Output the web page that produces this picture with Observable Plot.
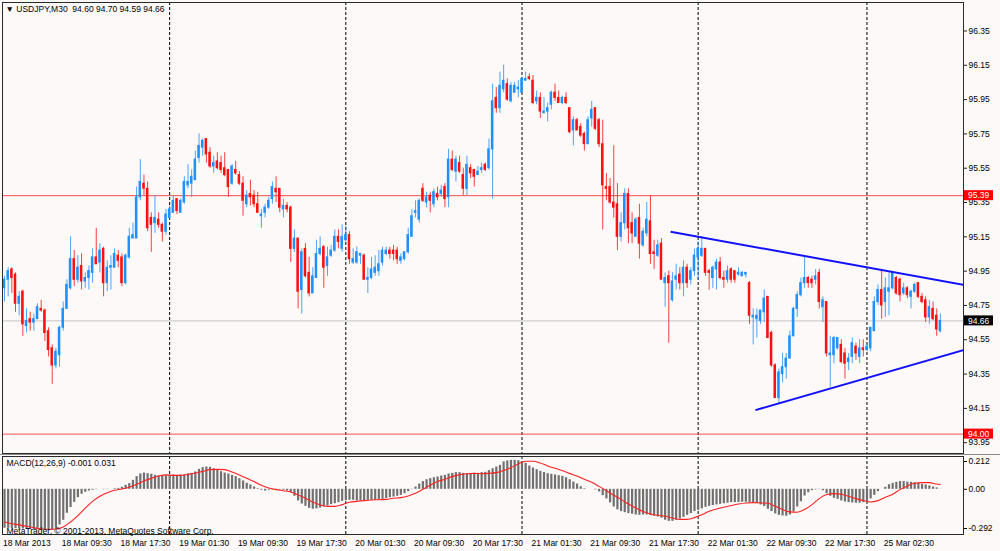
<!DOCTYPE html>
<html><head><meta charset="utf-8">
<script src="https://cdn.jsdelivr.net/npm/d3@7"></script>
<script src="https://cdn.jsdelivr.net/npm/@observablehq/plot@0.6"></script>
<style>
html,body{margin:0;padding:0;background:#fcf9f8;}
#chart{width:1000px;height:551px;overflow:hidden;background:#fcf9f8;}
#chart svg{display:block;}
.sep{height:1px;background:#8c8c8c;}
</style></head><body><div id="chart"></div>
<script>
// ---- data: USDJPY M30, bar index 0..255 ----
const opens = [94.85,94.90,94.96,94.93,94.76,94.83,94.63,94.67,94.65,94.67,94.73,94.72,94.60,94.50,94.40,94.46,94.62,94.73,94.85,95.02,94.90,94.98,94.89,94.91,94.94,95.03,95.00,95.08,94.88,94.97,94.97,95.04,95.03,94.88,95.03,95.14,95.14,95.38,95.46,95.43,95.26,95.23,95.25,95.22,95.18,95.26,95.29,95.37,95.29,95.35,95.45,95.46,95.48,95.61,95.67,95.72,95.64,95.56,95.59,95.58,95.55,95.54,95.46,95.54,95.51,95.46,95.34,95.40,95.39,95.34,95.27,95.29,95.32,95.37,95.43,95.43,95.31,95.33,95.32,95.08,95.14,94.84,95.08,94.94,94.82,94.91,95.05,95.09,94.98,95.04,95.07,95.15,95.08,95.13,95.16,95.00,95.00,95.04,95.04,94.90,94.91,94.94,94.95,95.00,95.05,95.07,95.07,95.07,95.01,95.02,95.06,95.15,95.29,95.25,95.43,95.35,95.39,95.34,95.40,95.40,95.44,95.38,95.60,95.53,95.58,95.51,95.43,95.55,95.54,95.51,95.54,95.57,95.55,95.66,95.96,95.90,96.01,96.04,95.94,95.99,96.01,95.99,96.06,96.08,96.06,95.94,95.96,95.87,95.88,95.92,95.99,95.96,95.93,95.96,95.90,95.77,95.83,95.79,95.75,95.69,95.84,95.90,95.83,95.69,95.44,95.44,95.35,95.34,95.15,95.23,95.40,95.23,95.15,95.26,95.10,95.17,95.24,95.06,95.04,95.11,94.88,94.92,94.78,94.90,94.93,94.88,94.97,94.90,94.95,95.03,95.04,95.08,94.95,94.91,94.96,95.00,94.91,94.90,94.96,94.95,94.93,94.92,94.93,94.88,94.68,94.67,94.66,94.71,94.80,94.59,94.40,94.21,94.35,94.39,94.44,94.57,94.73,94.81,94.88,94.91,94.90,94.90,94.94,94.74,94.77,94.46,94.46,94.50,94.52,94.47,94.42,94.45,94.51,94.45,94.50,94.49,94.50,94.60,94.77,94.84,94.77,94.83,94.85,94.91,94.90,94.82,94.85,94.80,94.83,94.88,94.80,94.78,94.68,94.73,94.69,94.60];
const highs = [94.92,94.97,94.97,94.94,94.83,94.84,94.73,94.71,94.70,94.76,94.78,94.73,94.62,94.52,94.50,94.63,94.77,94.90,95.15,95.07,95.04,95.05,94.94,94.98,95.08,95.20,95.11,95.09,95.01,95.04,95.08,95.07,95.05,95.05,95.20,95.23,95.44,95.60,95.51,95.47,95.29,95.39,95.29,95.23,95.31,95.33,95.39,95.37,95.37,95.50,95.57,95.54,95.65,95.75,95.72,95.72,95.67,95.62,95.64,95.62,95.64,95.54,95.57,95.59,95.53,95.50,95.42,95.48,95.42,95.41,95.31,95.34,95.38,95.47,95.50,95.43,95.37,95.35,95.33,95.19,95.14,95.08,95.11,95.03,94.97,95.13,95.15,95.10,95.09,95.10,95.19,95.19,95.22,95.21,95.18,95.08,95.09,95.05,95.05,94.97,95.03,95.04,95.07,95.09,95.09,95.09,95.10,95.09,95.05,95.06,95.20,95.31,95.36,95.37,95.46,95.41,95.41,95.43,95.44,95.45,95.46,95.66,95.65,95.62,95.62,95.55,95.62,95.57,95.54,95.56,95.58,95.58,95.72,96.04,96.02,96.11,96.15,96.07,96.05,96.05,96.06,96.08,96.11,96.10,96.09,96.00,95.99,95.96,95.93,96.00,96.04,96.00,95.97,95.99,95.90,95.85,95.84,95.81,95.76,95.85,95.94,95.90,95.84,95.83,95.52,95.49,95.68,95.46,95.29,95.43,95.43,95.29,95.26,95.34,95.20,95.35,95.39,95.13,95.13,95.14,94.94,94.95,94.94,94.99,94.97,95.01,94.99,94.97,95.08,95.12,95.15,95.08,94.96,94.98,95.02,95.03,94.95,94.98,94.97,94.95,94.97,94.95,94.94,94.89,94.73,94.73,94.72,94.84,94.80,94.60,94.41,94.38,94.47,94.47,94.60,94.74,94.83,94.91,95.04,94.92,94.92,94.96,94.96,94.80,94.77,94.57,94.57,94.56,94.55,94.50,94.47,94.56,94.53,94.55,94.55,94.53,94.62,94.80,94.87,94.95,94.91,94.94,94.94,94.92,94.91,94.88,94.86,94.84,94.88,94.88,94.82,94.80,94.78,94.77,94.73,94.70];
const lows = [94.77,94.80,94.82,94.71,94.69,94.57,94.59,94.60,94.60,94.67,94.71,94.54,94.45,94.29,94.38,94.39,94.60,94.73,94.84,94.86,94.88,94.84,94.85,94.84,94.88,94.99,94.94,94.80,94.83,94.84,94.97,94.97,94.86,94.87,95.02,95.14,95.14,95.36,95.39,95.18,95.06,95.17,95.20,95.12,95.16,95.25,95.29,95.28,95.29,95.34,95.43,95.38,95.48,95.58,95.62,95.58,95.55,95.52,95.54,95.52,95.50,95.38,95.45,95.51,95.45,95.27,95.32,95.33,95.32,95.29,95.20,95.26,95.31,95.34,95.35,95.29,95.26,95.29,95.00,95.06,94.73,94.70,94.91,94.80,94.82,94.91,95.04,94.85,94.92,95.03,95.06,95.08,95.06,95.12,94.99,94.99,94.99,94.99,94.90,94.82,94.90,94.92,94.92,94.98,95.04,95.02,95.01,94.99,94.99,95.01,95.05,95.15,95.26,95.23,95.35,95.32,95.29,95.32,95.36,95.38,95.32,95.32,95.53,95.47,95.52,95.39,95.39,95.49,95.44,95.51,95.52,95.53,95.54,95.37,95.87,95.87,95.99,95.94,95.93,95.99,95.96,95.99,96.06,96.06,95.92,95.92,95.84,95.87,95.82,95.89,95.94,95.93,95.92,95.92,95.75,95.68,95.77,95.73,95.65,95.69,95.79,95.77,95.67,95.19,95.36,95.34,95.26,95.07,95.12,95.19,95.11,95.11,95.15,95.02,95.09,95.15,94.99,94.96,95.03,94.90,94.74,94.53,94.77,94.84,94.84,94.80,94.85,94.87,94.92,94.90,95.03,94.92,94.84,94.85,94.84,94.90,94.85,94.88,94.88,94.88,94.92,94.92,94.91,94.64,94.52,94.56,94.64,94.65,94.56,94.39,94.21,94.18,94.30,94.32,94.44,94.57,94.68,94.80,94.85,94.85,94.85,94.87,94.73,94.65,94.45,94.27,94.41,94.49,94.41,94.32,94.37,94.41,94.43,94.41,94.45,94.48,94.48,94.60,94.75,94.67,94.68,94.69,94.84,94.81,94.77,94.81,94.79,94.73,94.82,94.79,94.76,94.65,94.64,94.66,94.57,94.59];
const closes = [94.90,94.95,94.91,94.76,94.80,94.64,94.66,94.65,94.67,94.74,94.72,94.59,94.49,94.40,94.48,94.62,94.73,94.87,95.02,94.90,94.97,94.89,94.91,94.95,95.03,94.99,95.07,94.88,94.97,94.98,95.05,95.01,94.88,95.04,95.15,95.16,95.38,95.47,95.43,95.20,95.22,95.26,95.22,95.18,95.28,95.31,95.36,95.30,95.36,95.47,95.47,95.50,95.60,95.68,95.71,95.63,95.56,95.58,95.55,95.54,95.51,95.44,95.56,95.52,95.46,95.36,95.39,95.38,95.34,95.29,95.28,95.32,95.36,95.44,95.41,95.32,95.33,95.31,95.08,95.14,94.83,95.06,94.92,94.82,94.92,95.05,95.08,94.97,95.03,95.07,95.15,95.12,95.15,95.16,95.02,95.02,95.06,95.05,94.90,94.91,94.96,94.97,94.99,95.07,95.07,95.05,95.05,95.02,95.03,95.06,95.16,95.27,95.30,95.36,95.36,95.38,95.36,95.41,95.38,95.42,95.37,95.60,95.54,95.60,95.53,95.43,95.57,95.52,95.50,95.53,95.55,95.54,95.66,95.94,95.90,96.03,96.06,95.95,96.03,96.03,96.02,96.07,96.07,96.07,95.93,95.96,95.88,95.88,95.90,95.99,95.96,95.93,95.96,95.93,95.76,95.83,95.77,95.74,95.69,95.83,95.89,95.78,95.69,95.45,95.43,95.35,95.32,95.15,95.23,95.40,95.20,95.17,95.25,95.11,95.18,95.25,95.05,95.05,95.10,94.90,94.91,94.88,94.89,94.92,94.88,94.97,94.88,94.95,95.04,95.08,95.08,94.94,94.94,94.97,95.00,94.91,94.90,94.95,94.90,94.90,94.94,94.94,94.94,94.69,94.69,94.69,94.72,94.79,94.56,94.40,94.21,94.36,94.39,94.44,94.57,94.73,94.81,94.88,94.91,94.88,94.88,94.92,94.77,94.78,94.47,94.47,94.56,94.56,94.42,94.41,94.44,94.53,94.47,94.50,94.49,94.51,94.62,94.77,94.84,94.75,94.85,94.85,94.94,94.82,94.81,94.85,94.81,94.83,94.87,94.80,94.77,94.68,94.74,94.67,94.61,94.66];

// MACD main line (histogram), one value per bar
const macdHist = [-0.252,-0.252,-0.254,-0.254,-0.256,-0.256,-0.258,-0.258,-0.261,-0.261,-0.263,-0.263,-0.265,-0.265,-0.252,-0.230,-0.200,-0.155,-0.118,-0.084,-0.054,-0.032,-0.019,-0.011,-0.006,-0.002,0.000,-0.002,-0.002,0.000,0.004,0.006,0.013,0.026,0.037,0.058,0.082,0.099,0.105,0.101,0.097,0.090,0.086,0.086,0.088,0.090,0.093,0.090,0.093,0.093,0.099,0.103,0.112,0.129,0.140,0.144,0.142,0.133,0.123,0.114,0.105,0.099,0.090,0.082,0.069,0.054,0.039,0.028,0.015,0.004,-0.006,-0.011,-0.006,-0.004,-0.004,-0.004,-0.006,-0.011,-0.022,-0.045,-0.075,-0.095,-0.110,-0.123,-0.129,-0.127,-0.121,-0.114,-0.108,-0.099,-0.093,-0.086,-0.078,-0.073,-0.071,-0.071,-0.075,-0.075,-0.075,-0.071,-0.071,-0.071,-0.067,-0.065,-0.060,-0.054,-0.050,-0.045,-0.039,-0.028,-0.015,-0.002,0.015,0.034,0.050,0.062,0.069,0.075,0.080,0.086,0.090,0.099,0.103,0.108,0.108,0.103,0.101,0.101,0.103,0.103,0.108,0.110,0.121,0.133,0.144,0.155,0.177,0.183,0.187,0.187,0.185,0.179,0.168,0.151,0.138,0.127,0.116,0.108,0.101,0.097,0.093,0.088,0.084,0.075,0.062,0.047,0.034,0.017,0.004,0.000,0.000,-0.004,-0.017,-0.041,-0.062,-0.088,-0.114,-0.133,-0.144,-0.151,-0.157,-0.161,-0.166,-0.168,-0.166,-0.166,-0.170,-0.174,-0.179,-0.187,-0.200,-0.207,-0.207,-0.200,-0.192,-0.181,-0.168,-0.157,-0.144,-0.136,-0.127,-0.116,-0.110,-0.105,-0.101,-0.097,-0.093,-0.090,-0.086,-0.086,-0.086,-0.084,-0.084,-0.086,-0.088,-0.093,-0.101,-0.112,-0.129,-0.144,-0.159,-0.168,-0.172,-0.174,-0.166,-0.146,-0.114,-0.080,-0.043,-0.022,-0.009,-0.004,-0.002,-0.009,-0.028,-0.045,-0.058,-0.065,-0.075,-0.082,-0.086,-0.088,-0.090,-0.090,-0.086,-0.080,-0.062,-0.039,-0.015,0.000,0.013,0.030,0.039,0.045,0.050,0.050,0.047,0.045,0.043,0.039,0.032,0.028,0.022,0.015,0.009,-0.001];

// MACD signal line, read at these bars
const signalBars = [0,2,4,6,8,10,12,14,16,18,20,22,24,26,28,30,32,34,36,38,40,42,44,46,48,50,52,54,56,58,60,62,64,66,68,70,72,74,76,78,80,82,84,86,88,90,92,94,96,98,100,102,104,106,108,110,112,114,116,118,120,122,124,126,128,130,132,134,136,138,140,142,144,146,148,150,152,154,156,158,160,162,164,166,168,170,172,174,176,178,180,182,184,186,188,190,192,194,196,198,200,202,204,206,208,210,212,214,216,218,220,222,224,226,228,230,232,234,236,238,240,242,244,246,248,250,252,254,255];
const signalValues = [-0.211,-0.222,-0.230,-0.239,-0.248,-0.256,-0.258,-0.256,-0.243,-0.211,-0.170,-0.121,-0.078,-0.045,-0.022,-0.006,0.002,0.013,0.032,0.054,0.071,0.086,0.093,0.090,0.090,0.097,0.105,0.116,0.127,0.129,0.127,0.112,0.093,0.071,0.050,0.026,0.009,-0.002,-0.009,-0.017,-0.037,-0.058,-0.082,-0.101,-0.110,-0.110,-0.099,-0.084,-0.078,-0.073,-0.069,-0.067,-0.065,-0.058,-0.054,-0.043,-0.026,0.000,0.026,0.050,0.065,0.082,0.095,0.101,0.103,0.101,0.103,0.108,0.121,0.140,0.164,0.181,0.181,0.170,0.151,0.136,0.121,0.103,0.086,0.065,0.045,0.019,-0.009,-0.039,-0.065,-0.095,-0.121,-0.144,-0.159,-0.168,-0.174,-0.185,-0.194,-0.194,-0.183,-0.164,-0.142,-0.127,-0.116,-0.105,-0.095,-0.088,-0.086,-0.088,-0.090,-0.110,-0.131,-0.146,-0.148,-0.131,-0.099,-0.060,-0.034,-0.028,-0.032,-0.045,-0.060,-0.073,-0.082,-0.073,-0.052,-0.032,-0.002,0.022,0.039,0.043,0.043,0.034,0.031];

// Day separators (bar index of each new day)
const daySeparators = [45, 93, 141, 189, 235];

// Time axis labels
const timeTickBars = [0,16,32,48,64,80,96,112,128,144,160,176,192,208,224,240];
const timeTickLabels = ["18 Mar 2013","18 Mar 09:30","18 Mar 17:30","19 Mar 01:30","19 Mar 09:30","19 Mar 17:30","20 Mar 01:30","20 Mar 09:30","20 Mar 17:30","21 Mar 01:30","21 Mar 09:30","21 Mar 17:30","22 Mar 01:30","22 Mar 09:30","22 Mar 17:30","25 Mar 02:30"];

// Price axis
const priceTicks = [96.35,96.15,95.95,95.75,95.55,95.35,95.15,94.95,94.75,94.55,94.35,94.15,93.95];
const priceRange = [93.887, 96.516];
const barRange = [-0.545, 261.3];

// Horizontal levels
const levelPrices = [95.39, 94.00];
const bidPrice = 94.66;

// Triangle trend lines
const trendStartBar = [181.5, 204.6];
const trendStartPrice = [95.18, 94.14];
const trendEndBar = [261.3, 261.3];
const trendEndPrice = [94.87, 94.49];

// MACD axis
const macdRange = [-0.292, 0.212];
const macdTicks = [0.212, 0.00, -0.292];
const macdTickLabels = ["0.212", "0.00", "-0.292"];

const headerText = "\u25BC\u00A0USDJPY,M30\u00A0\u00A094.60 94.70 94.59 94.66";
const macdText = "MACD(12,26,9) -0.001 0.031";
const copyrightText = "MetaTrader, \u00A9 2001-2013, MetaQuotes Software Corp.";

// ---- build ----
const BLUE = "#1e90ff", RED = "#ff1010";
const FONT = "'Liberation Sans', Arial, sans-serif";
const candles = opens.map((o, i) => ({i, o, h: highs[i], l: lows[i], c: closes[i], up: closes[i] >= o}));
const trends = trendStartBar.map((b, k) => ({x1: b, y1: trendStartPrice[k], x2: trendEndBar[k], y2: trendEndPrice[k]}));
const tags = [
  {price: levelPrices[0], label: levelPrices[0].toFixed(2), bg: "#ff0000"},
  {price: levelPrices[1], label: levelPrices[1].toFixed(2), bg: "#ff0000"},
  {price: bidPrice, label: bidPrice.toFixed(2), bg: "#000000"}
];
const signal = signalBars.map((b, k) => ({b, v: signalValues[k]}));
const hist = macdHist.map((v, i) => ({i, v}));
const timeLabel = new Map(timeTickBars.map((b, k) => [b, timeTickLabels[k]]));
const macdLabel = new Map(macdTicks.map((t, k) => [t, macdTickLabels[k]]));

const style = {background: "none", fontFamily: FONT, fontSize: "8.5px", color: "#000", overflow: "visible"};

const mainSvg = Plot.plot({
  width: 1000, height: 454,
  marginLeft: 2, marginRight: 37, marginTop: 2, marginBottom: 1,
  style,
  x: {domain: barRange, axis: null, label: null},
  y: {domain: priceRange, axis: null, label: null},
  marks: [
    Plot.ruleX(daySeparators, {x: d => d, stroke: "#000", strokeDasharray: "3,2"}),
    Plot.ruleY(levelPrices, {y: d => d, stroke: "#ff3030", strokeOpacity: 0.85}),
    Plot.ruleY([bidPrice], {y: d => d, stroke: "#c4c4c4"}),
    Plot.ruleX(candles, {filter: d => d.up, x: "i", y1: "l", y2: "h", stroke: BLUE, strokeOpacity: 0.8}),
    Plot.ruleX(candles, {filter: d => !d.up, x: "i", y1: "l", y2: "h", stroke: RED, strokeOpacity: 0.8}),
    Plot.rect(candles, {filter: d => d.up, x1: d => d.i - 0.34, x2: d => d.i + 0.34, y1: "o", y2: "c", fill: BLUE, insetTop: -0.5, insetBottom: -0.5}),
    Plot.rect(candles, {filter: d => !d.up, x1: d => d.i - 0.34, x2: d => d.i + 0.34, y1: "o", y2: "c", fill: RED, insetTop: -0.5, insetBottom: -0.5}),
    Plot.link(trends, {x1: "x1", y1: "y1", x2: "x2", y2: "y2", stroke: "#1212ff", strokeWidth: 2, clip: true}),
    Plot.axisY(priceTicks, {anchor: "right", label: null, tickFormat: d => d.toFixed(2), tickSize: 3, tickPadding: 2, stroke: "#222"}),
    Plot.frame({stroke: "#2a2a2a"}),
    // price tags on the right axis
    Plot.rect(tags, {x1: () => barRange[1], x2: () => barRange[1], y1: "price", y2: "price", fill: "bg",
      insetLeft: 1, insetRight: -30, insetTop: -5, insetBottom: -5}),
    Plot.text(tags, {x: () => barRange[1], y: "price", text: "label", dx: 4.5, textAnchor: "start", fill: "#fff"}),
    Plot.text([headerText], {frameAnchor: "top-left", text: d => d, dx: 3, dy: 3, lineAnchor: "top", textAnchor: "start", fill: "#000"})
  ],
  color: {type: "identity"}
});

const macdSvg = Plot.plot({
  width: 1000, height: 96,
  marginLeft: 2, marginRight: 37, marginTop: 1, marginBottom: 17,
  style,
  x: {domain: barRange, axis: null, label: null},
  y: {domain: macdRange, axis: null, label: null},
  marks: [
    Plot.ruleX(daySeparators, {x: d => d, stroke: "#000", strokeDasharray: "3,2"}),
    Plot.ruleX(hist, {x: "i", y1: () => 0, y2: "v", stroke: "#707070", strokeWidth: 2.2}),
    Plot.line(signal, {x: "b", y: "v", stroke: "#ff2020", strokeWidth: 1.1, curve: "monotone-x"}),
    Plot.axisY([macdTicks[0]], {anchor: "right", label: null, tickFormat: d => macdLabel.get(d), tickSize: 3, tickPadding: 2, dy: 5}),
    Plot.axisY([macdTicks[1]], {anchor: "right", label: null, tickFormat: d => macdLabel.get(d), tickSize: 3, tickPadding: 2}),
    Plot.axisY([macdTicks[2]], {anchor: "right", label: null, tickFormat: d => macdLabel.get(d), tickSize: 3, tickPadding: 2, dy: -6}),
    Plot.axisX(timeTickBars, {anchor: "bottom", label: null, tickFormat: d => timeLabel.get(d), tickSize: 0, tickPadding: 5, textAnchor: "start", dx: -1.5}),
    Plot.frame({stroke: "#2a2a2a"}),
    Plot.text([macdText], {frameAnchor: "top-left", text: d => d, dx: 4, dy: 3, lineAnchor: "top", textAnchor: "start", fill: "#000"}),
    Plot.text([copyrightText], {frameAnchor: "bottom-left", text: d => d, dx: 4, dy: -1, lineAnchor: "bottom", textAnchor: "start", fill: "#000"})
  ]
});

const chart = document.getElementById("chart");
const sep = document.createElement("div");
sep.className = "sep";
chart.append(mainSvg, sep, macdSvg);
</script></body></html>
